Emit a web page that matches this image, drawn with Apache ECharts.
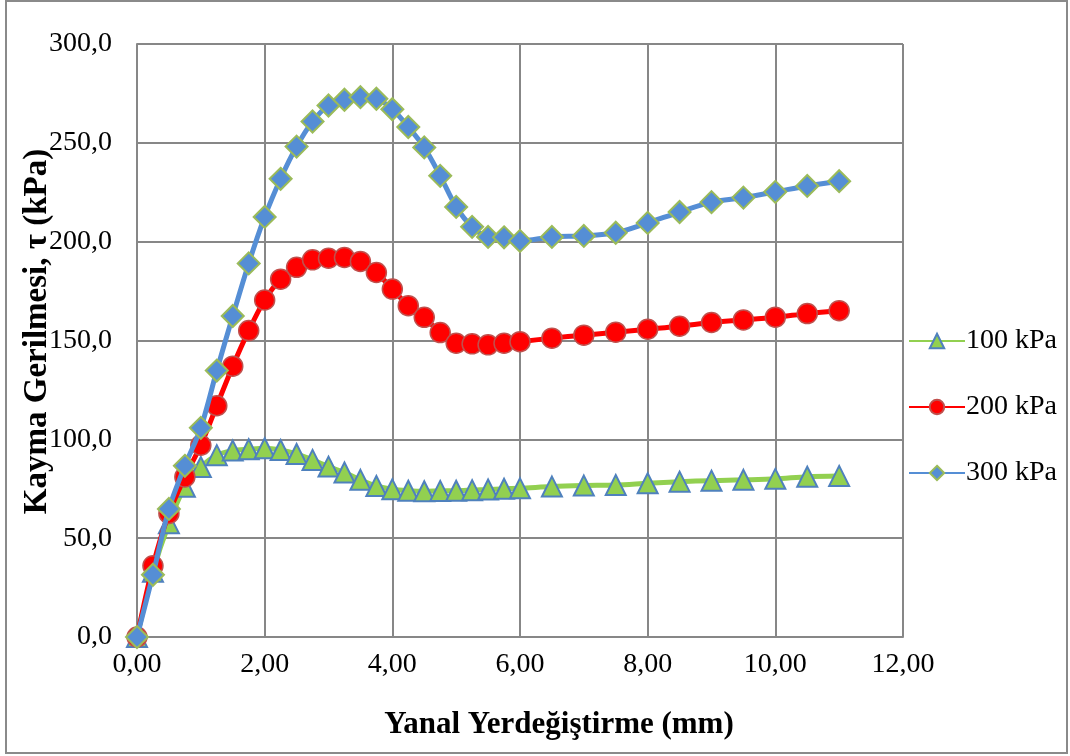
<!DOCTYPE html>
<html>
<head>
<meta charset="utf-8">
<script src="https://cdn.jsdelivr.net/npm/echarts@6/dist/echarts.min.js"></script>
<style>
  html, body { margin: 0; padding: 0; background: #fff; }
  #chart { width: 1070px; height: 756px; }
</style>
</head>
<body>
<div id="chart"></div>
<script>
// Lateral displacement (mm)
const displacement = [0, 0.25, 0.5, 0.75, 1.0, 1.25, 1.5, 1.75, 2.0, 2.25, 2.5, 2.75, 3.0, 3.25, 3.5, 3.75,
  4.0, 4.25, 4.5, 4.75, 5.0, 5.25, 5.5, 5.75, 6.0, 6.5, 7.0, 7.5, 8.0, 8.5, 9.0, 9.5, 10.0, 10.5, 11.0];

// Shear stress (kPa) under each normal stress
const tau100 = [0, 33, 57.5, 76, 86, 92, 94.3, 95, 95.5, 94.6, 92.6, 89.6, 86.2, 83.2, 79.5, 76.4,
  74.7, 74, 73.7, 73.9, 74, 74.3, 74.6, 75, 75.2, 76.1, 76.6, 76.9, 77.8, 78.6, 79.1, 79.5, 80, 81.1, 81.5];
const tau200 = [0, 36, 62.5, 81, 97, 117, 137, 155, 170.5, 181, 187, 190.8, 191.6, 192, 190, 184.4,
  176, 167.6, 161.7, 154, 148.6, 148.3, 147.8, 148.6, 149.4, 151.2, 152.7, 154.2, 155.7, 157.2, 159.1, 160.4, 161.8, 163.6, 165.1];
const tau300 = [0, 31.5, 64.8, 86.6, 105.8, 134.8, 162.4, 189, 212.5, 231.8, 248.1, 260.8, 268.9, 271.8, 273.1, 272.3,
  267, 258, 247.7, 233.3, 217.6, 207.5, 202.4, 202.2, 200.4, 202.4, 202.9, 204.5, 209.5, 215, 220, 222.3, 225.2, 228.2, 230.6];

const seriesNames = ['100 kPa', '200 kPa', '300 kPa'];
const xTitle = 'Yanal Yerdeğiştirme (mm)';
const yTitle = 'Kayma Gerilmesi, τ (kPa)';

const pairs = (ys) => displacement.map((x, i) => [x, ys[i]]);
const serif = '"Liberation Serif", "DejaVu Serif", serif';

const chart = echarts.init(document.getElementById('chart'), null, { renderer: 'canvas' });

chart.setOption({
  animation: false,
  backgroundColor: '#ffffff',
  graphic: [{
    type: 'rect',
    shape: { x: 6, y: 1, width: 1061, height: 752 },
    style: { fill: 'none', stroke: '#8a8a8a', lineWidth: 2 },
    silent: true
  }],
  grid: { left: 137, right: 167, top: 44, bottom: 119, outerBoundsMode: 'none', containLabel: false },
  legend: {
    orient: 'vertical',
    left: 903,
    top: 322,
    itemGap: 38,
    itemWidth: 56,
    itemHeight: 18,
    data: seriesNames,
    textStyle: { fontFamily: serif, fontSize: 28, lineHeight: 28, color: '#000', padding: [0, 0, 0, -4] }
  },
  xAxis: {
    type: 'value',
    min: 0, max: 12, interval: 2,
    name: xTitle,
    nameLocation: 'middle',
    nameGap: 72,
    nameTextStyle: { fontFamily: serif, fontSize: 31, fontWeight: 'bold', color: '#000', padding: [0, 0, 0, 78] },
    axisLine: { show: true, lineStyle: { color: '#878787', width: 2 } },
    axisTick: { show: false },
    axisLabel: {
      fontFamily: serif, fontSize: 28, color: '#000', margin: 14,
      formatter: (v) => v.toFixed(2).replace('.', ',')
    },
    splitLine: { show: true, lineStyle: { color: '#878787', width: 2 } }
  },
  yAxis: {
    type: 'value',
    min: 0, max: 300, interval: 50,
    name: yTitle,
    nameLocation: 'middle',
    nameGap: 83,
    nameMoveOverlap: false,
    nameTextStyle: { fontFamily: serif, fontSize: 33, fontWeight: 'bold', color: '#000', padding: [0, 0, 0, 18] },
    axisLine: { show: true, lineStyle: { color: '#878787', width: 2 } },
    axisTick: { show: false },
    axisLabel: {
      fontFamily: serif, fontSize: 28, color: '#000', margin: 25,
      formatter: (v) => v.toFixed(1).replace('.', ',')
    },
    splitLine: { show: true, lineStyle: { color: '#878787', width: 2 } }
  },
  series: [
    {
      name: seriesNames[0], type: 'line', data: pairs(tau100), smooth: 0.3,
      symbol: 'triangle', symbolSize: 20,
      lineStyle: { color: '#92D050', width: 5 },
      itemStyle: { color: '#92D050', borderColor: '#4F81BD', borderWidth: 2 },
      z: 2
    },
    {
      name: seriesNames[1], type: 'line', data: pairs(tau200), smooth: 0.3,
      symbol: 'circle', symbolSize: 20,
      lineStyle: { color: '#FF0000', width: 5 },
      itemStyle: { color: '#FF0000', borderColor: '#C0504D', borderWidth: 1.5 },
      z: 3
    },
    {
      name: seriesNames[2], type: 'line', data: pairs(tau300), smooth: 0.3,
      symbol: 'diamond', symbolSize: 22,
      lineStyle: { color: '#558ED5', width: 5 },
      itemStyle: { color: '#558ED5', borderColor: '#9BBB59', borderWidth: 2 },
      z: 4
    }
  ]
});
</script>
</body>
</html>
